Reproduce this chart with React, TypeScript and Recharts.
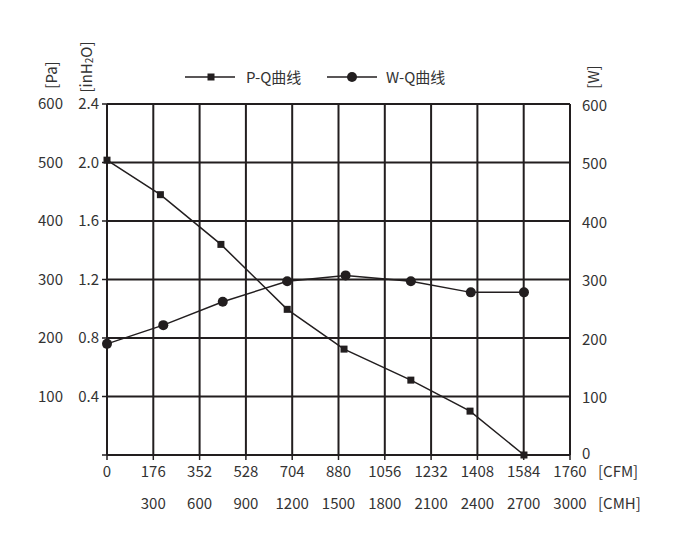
import React from 'react';
import { ComposedChart, Line, XAxis, YAxis, CartesianGrid, Legend } from 'recharts';

// 风量 (CFM) 与 压力/功率 读数
const cfmPQ = [0, 203, 433, 685, 901, 1155, 1380, 1585];
const paPQ = [504, 445, 360, 249, 181, 128, 75, 0];
const cfmWQ = [0, 214, 440, 685, 907, 1155, 1383, 1585];
const wattWQ = [190, 222, 262, 297, 307, 297, 278, 278];

const cfmTicks = [0, 176, 352, 528, 704, 880, 1056, 1232, 1408, 1584, 1760];
const cmhLabels = ['', '300', '600', '900', '1200', '1500', '1800', '2100', '2400', '2700', '3000'];
const cfmMinor = [88, 264, 440, 616, 792, 968, 1144, 1320, 1496, 1672];
const paTicks = [0, 100, 200, 300, 400, 500, 600];
const paMinor = [50, 150, 250, 350, 450, 550];
const inh2oTicks = [0, 0.4, 0.8, 1.2, 1.6, 2.0, 2.4];
const wattTicks = [0, 100, 200, 300, 400, 500, 600];

const PA_PER_INH2O = 250;

const LINE = '#221e1f';
const TEXT = '#333333';
const FONT = '"Noto Sans CJK SC", "Noto Sans", sans-serif';

const pqData = cfmPQ.map((q, i) => ({ q, pa: paPQ[i], inh: paPQ[i] / PA_PER_INH2O }));
const wqData = cfmWQ.map((q, i) => ({ q, w: wattWQ[i] }));

function CfmTick({ x, y, payload }: any) {
  const v = payload.value;
  const i = cfmTicks.indexOf(v);
  return (
    <g>
      <text x={x} y={y + 15} textAnchor="middle" fill={TEXT} fontSize={15} fontFamily={FONT}>
        {v}
      </text>
      {i > 0 && (
        <text x={x} y={y + 47} textAnchor="middle" fill={TEXT} fontSize={15} fontFamily={FONT}>
          {cmhLabels[i]}
        </text>
      )}
      {v === 1760 && (
        <>
          <text x={x + 28} y={y + 15} fill={TEXT} fontSize={15} fontFamily={FONT}>[CFM]</text>
          <text x={x + 28} y={y + 47} fill={TEXT} fontSize={15} fontFamily={FONT}>[CMH]</text>
        </>
      )}
    </g>
  );
}

// 右轴：0 稍微上移，避免压到 1760
function WattTick({ x, y, payload }: any) {
  const v = payload.value;
  return (
    <text
      x={x}
      y={y + (v === 0 ? -3 : 0)}
      dominantBaseline="central"
      textAnchor="start"
      fill={TEXT}
      fontSize={15}
      fontFamily={FONT}
    >
      {v}
    </text>
  );
}

function unitLabel(text: React.ReactNode, dx: number, dy: number) {
  return (props: any) => {
    const vb = props.viewBox || {};
    const cx = vb.x + dx;
    const cy = vb.y + dy;
    return (
      <text
        x={cx}
        y={cy}
        transform={`rotate(-90, ${cx}, ${cy})`}
        textAnchor="middle"
        dominantBaseline="central"
        fill={TEXT}
        fontSize={15}
        fontFamily={FONT}
      >
        {text}
      </text>
    );
  };
}

function ChartLegend() {
  return (
    <div style={{ position: 'relative', width: 700, height: 22, fontFamily: FONT, fontSize: 15, color: TEXT }}>
      <svg width={700} height={22} style={{ position: 'absolute', left: 0, top: 0 }}>
        <line x1={185} x2={235} y1={11} y2={11} stroke={LINE} strokeWidth={1.5} />
        <rect x={207.5} y={7.5} width={7} height={7} fill={LINE} />
        <line x1={327} x2={377} y1={11} y2={11} stroke={LINE} strokeWidth={1.5} />
        <circle cx={352} cy={11} r={5} fill={LINE} />
      </svg>
      <span style={{ position: 'absolute', left: 246, top: 0, lineHeight: '22px' }}>P-Q曲线</span>
      <span style={{ position: 'absolute', left: 386, top: 0, lineHeight: '22px' }}>W-Q曲线</span>
    </div>
  );
}

export default function App() {
  return (
    <div style={{ position: 'absolute', left: 0, top: 0, width: 700, height: 546 }}>
      <ComposedChart data={pqData} width={700} height={546} margin={{ top: 82, right: 80, bottom: 31, left: 20 }}>
        <Legend verticalAlign="top" content={<ChartLegend />} wrapperStyle={{ top: 66, left: 0, width: 700 }} />
        <CartesianGrid stroke={LINE} strokeWidth={2} xAxisId={0} yAxisId="pa" />
        <XAxis
          xAxisId="minor"
          type="number"
          dataKey="q"
          domain={[0, 1760]}
          allowDataOverflow
          ticks={cfmMinor}
          interval={0}
          height={0}
          axisLine={false}
          tickSize={3}
          tickLine={{ stroke: LINE, strokeWidth: 1.5 }}
          tick={() => <g />}
        />
        <XAxis
          xAxisId={0}
          type="number"
          dataKey="q"
          domain={[0, 1760]}
          ticks={cfmTicks}
          interval={0}
          height={60}
          tickSize={5}
          tickMargin={2}
          axisLine={{ stroke: LINE, strokeWidth: 2 }}
          tickLine={{ stroke: LINE, strokeWidth: 1.5 }}
          tick={<CfmTick />}
        />
        <YAxis
          yAxisId="minorY"
          orientation="left"
          domain={[0, 600]}
          allowDataOverflow
          ticks={paMinor}
          interval={0}
          width={0}
          axisLine={false}
          tickSize={3}
          tickLine={{ stroke: LINE, strokeWidth: 1.5 }}
          tick={() => <g />}
        />
        <YAxis
          yAxisId="inh"
          orientation="left"
          domain={[0, 2.4]}
          allowDataOverflow
          ticks={inh2oTicks}
          interval={0}
          width={44}
          tickSize={5}
          tickMargin={3}
          axisLine={{ stroke: LINE, strokeWidth: 2 }}
          tickLine={{ stroke: LINE, strokeWidth: 1.5 }}
          tickFormatter={(v: number) => (v === 0 ? '' : v.toFixed(1))}
          tick={{ fill: TEXT, fontSize: 15, fontFamily: FONT }}
          label={unitLabel(
            <>
              [inH<tspan fontSize={10} dy={3}>2</tspan>
              <tspan dy={-3}>O]</tspan>
            </>,
            22,
            -37
          )}
        />
        <YAxis
          yAxisId="pa"
          orientation="left"
          domain={[0, 600]}
          ticks={paTicks}
          interval={0}
          width={43}
          tickSize={0}
          tickMargin={0}
          axisLine={false}
          tickLine={false}
          tickFormatter={(v: number) => (v === 0 ? '' : String(v))}
          tick={{ fill: TEXT, fontSize: 15, fontFamily: FONT }}
          label={unitLabel('[Pa]', 30, -29)}
        />
        <YAxis
          yAxisId="w"
          orientation="right"
          domain={[0, 600]}
          ticks={wattTicks}
          interval={0}
          width={50}
          tickSize={0}
          tickMargin={12}
          axisLine={false}
          tickLine={false}
          tick={<WattTick />}
          label={unitLabel('[W]', 22, -27)}
        />
        {/* 辅助刻度轴需要挂一条不可见的系列才会绘制 */}
        <Line
          xAxisId="minor"
          yAxisId="minorY"
          dataKey="pa"
          stroke="none"
          dot={false}
          activeDot={false}
          legendType="none"
          isAnimationActive={false}
        />
        <Line
          xAxisId={0}
          yAxisId="inh"
          dataKey="inh"
          stroke="none"
          dot={false}
          activeDot={false}
          legendType="none"
          isAnimationActive={false}
        />
        <Line
          xAxisId={0}
          yAxisId="pa"
          dataKey="pa"
          name="P-Q曲线"
          stroke={LINE}
          strokeWidth={1.5}
          isAnimationActive={false}
          dot={(p: any) => (
            <rect key={`pq-${p.index}`} x={p.cx - 3.5} y={p.cy - 3.5} width={7} height={7} fill={LINE} />
          )}
        />
        <Line
          data={wqData}
          xAxisId={0}
          yAxisId="w"
          dataKey="w"
          name="W-Q曲线"
          stroke={LINE}
          strokeWidth={1.5}
          isAnimationActive={false}
          dot={{ r: 5, fill: LINE, stroke: 'none' }}
        />
      </ComposedChart>
    </div>
  );
}
